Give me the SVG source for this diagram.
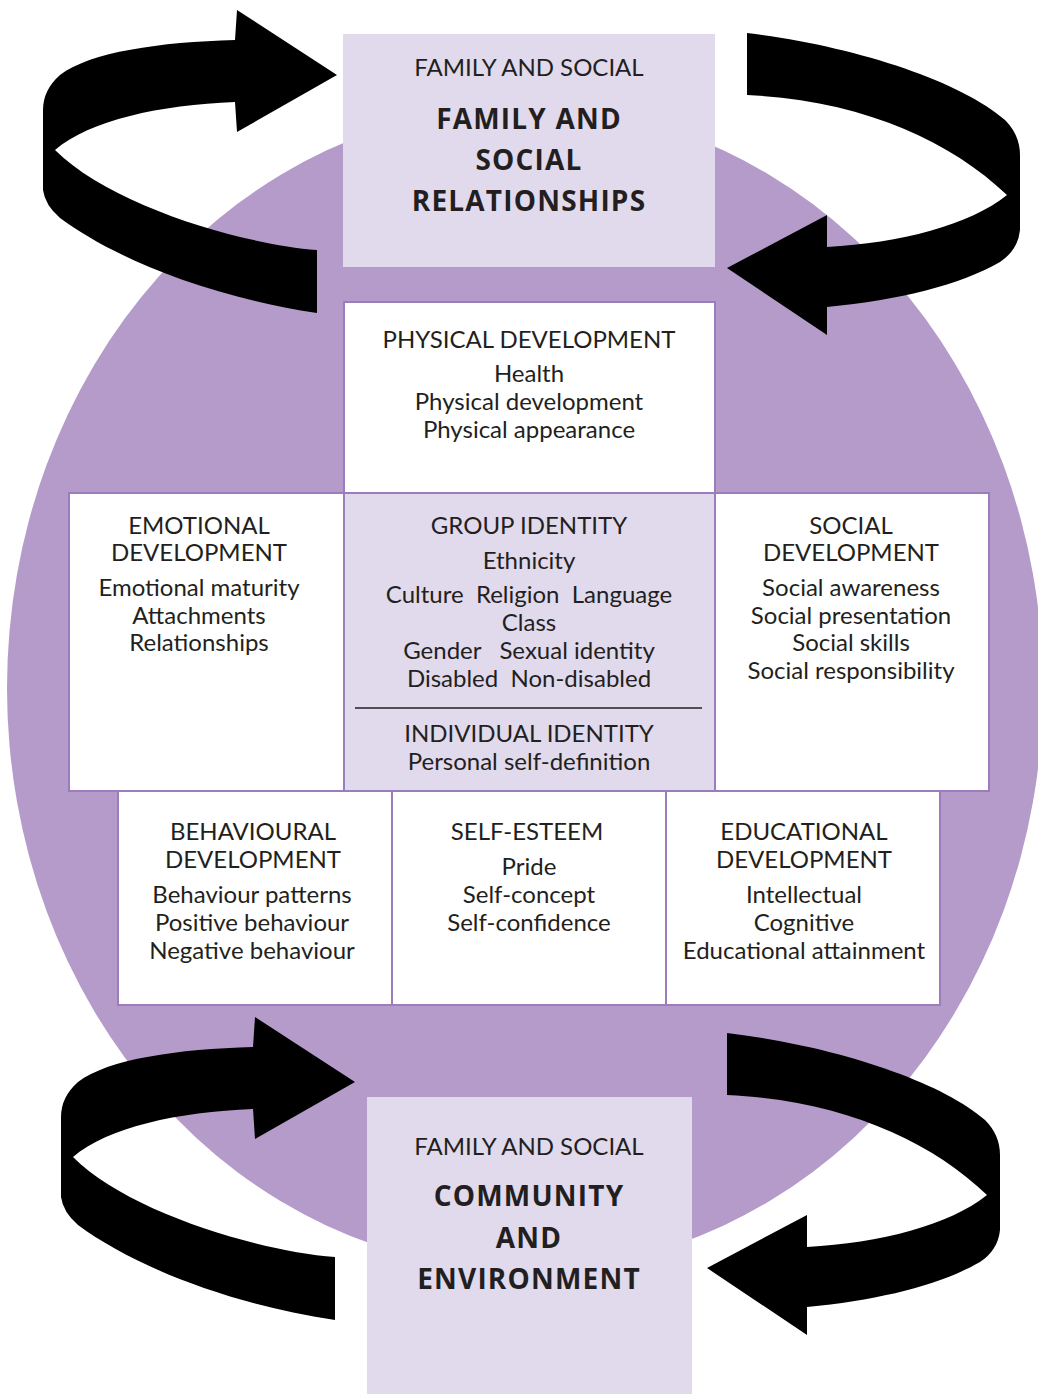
<svg xmlns="http://www.w3.org/2000/svg" width="1038" height="1394" viewBox="0 0 1038 1394">
<style>
.t{font-family:Lato,"Open Sans","Liberation Sans",sans-serif;font-size:24px;fill:#231f20;text-anchor:middle;white-space:pre}
.b{font-family:"Open Sans","Liberation Sans",sans-serif;font-size:28px;font-weight:bold;letter-spacing:1.2px;fill:#231f20;text-anchor:middle}
.box{fill:#ffffff;stroke:#9b7dbd;stroke-width:2}
.lav{fill:#e1d9ec}
.boxl{fill:#e1d9ec;stroke:#9b7dbd;stroke-width:2}
.arr{fill:#000000}
</style>
<defs>
<path id="arrL" d="M317,250 C240,244 110,205 55,150 C90,120 160,105 235,102 L237,132 L337,75 L237,10 L235,40 C160,42 90,52 60,75 Q43,90 43,110 L43,190 Q45,205 60,218 C110,255 200,295 317,313 Z"/>
<path id="arrR" d="M747,33 C850,45 960,80 1005,120 Q1020,135 1020,155 L1020,230 Q1018,250 1000,262 C960,285 900,300 827,307 L827,335 L727,268 L827,215 L827,247 C900,243 970,225 1007,195 C950,140 860,100 747,95 Z"/>
</defs>
<rect width="1038" height="1394" fill="#ffffff"/>
<ellipse id="circle" cx="525" cy="688" rx="518" ry="582" fill="#b49bca"/>

<g id="family-social">
<rect class="lav" x="343" y="34" width="372" height="233"/>
<text class="t" x="529" y="76">FAMILY AND SOCIAL</text>
<text class="b" x="529" y="129">FAMILY AND</text>
<text class="b" x="529" y="170">SOCIAL</text>
<text class="b" x="529" y="211">RELATIONSHIPS</text>
</g>

<g id="physical">
<rect class="box" x="344" y="302" width="371" height="191"/>
<text class="t" x="529" y="348">PHYSICAL DEVELOPMENT</text>
<text class="t" x="529" y="382">Health</text>
<text class="t" x="529" y="410">Physical development</text>
<text class="t" x="529" y="438">Physical appearance</text>
</g>

<g id="emotional">
<rect class="box" x="69" y="493" width="275" height="298"/>
<text class="t" x="199" y="534">EMOTIONAL</text>
<text class="t" x="199" y="561">DEVELOPMENT</text>
<text class="t" x="199" y="596">Emotional maturity</text>
<text class="t" x="199" y="624">Attachments</text>
<text class="t" x="199" y="651">Relationships</text>
</g>

<g id="identity">
<rect class="boxl" x="344" y="493" width="371" height="298"/>
<text class="t" x="529" y="534">GROUP IDENTITY</text>
<text class="t" x="529" y="569">Ethnicity</text>
<text class="t" x="529" y="603" xml:space="preserve">Culture  Religion  Language</text>
<text class="t" x="529" y="631">Class</text>
<text class="t" x="529" y="659" xml:space="preserve">Gender   Sexual identity</text>
<text class="t" x="529" y="687" xml:space="preserve">Disabled  Non-disabled</text>
<line x1="355" y1="708" x2="702" y2="708" stroke="#231f20" stroke-width="1.6"/>
<text class="t" x="529" y="742">INDIVIDUAL IDENTITY</text>
<text class="t" x="529" y="770">Personal self-definition</text>
</g>

<g id="social">
<rect class="box" x="715" y="493" width="274" height="298"/>
<text class="t" x="851" y="534">SOCIAL</text>
<text class="t" x="851" y="561">DEVELOPMENT</text>
<text class="t" x="851" y="596">Social awareness</text>
<text class="t" x="851" y="624">Social presentation</text>
<text class="t" x="851" y="651">Social skills</text>
<text class="t" x="851" y="679">Social responsibility</text>
</g>

<g id="behavioural">
<rect class="box" x="118" y="791" width="274" height="214"/>
<text class="t" x="253" y="840">BEHAVIOURAL</text>
<text class="t" x="253" y="868">DEVELOPMENT</text>
<text class="t" x="252" y="903">Behaviour patterns</text>
<text class="t" x="252" y="931">Positive behaviour</text>
<text class="t" x="252" y="959">Negative behaviour</text>
</g>

<g id="self-esteem">
<rect class="box" x="392" y="791" width="274" height="214"/>
<text class="t" x="527" y="840">SELF-ESTEEM</text>
<text class="t" x="529" y="875">Pride</text>
<text class="t" x="529" y="903">Self-concept</text>
<text class="t" x="529" y="931">Self-confidence</text>
</g>

<g id="educational">
<rect class="box" x="666" y="791" width="274" height="214"/>
<text class="t" x="804" y="840">EDUCATIONAL</text>
<text class="t" x="804" y="868">DEVELOPMENT</text>
<text class="t" x="804" y="903">Intellectual</text>
<text class="t" x="804" y="931">Cognitive</text>
<text class="t" x="804" y="959">Educational attainment</text>
</g>

<g id="community">
<rect class="lav" x="367" y="1097" width="325" height="297"/>
<text class="t" x="529" y="1155">FAMILY AND SOCIAL</text>
<text class="b" x="529" y="1206">COMMUNITY</text>
<text class="b" x="529" y="1248">AND</text>
<text class="b" x="529" y="1289">ENVIRONMENT</text>
</g>

<g id="connectors">
<use href="#arrL" class="arr"/>
<use href="#arrR" class="arr"/>
<use href="#arrL" class="arr" transform="translate(18,1007)"/>
<use href="#arrR" class="arr" transform="translate(-20,1000)"/>
</g>
</svg>
